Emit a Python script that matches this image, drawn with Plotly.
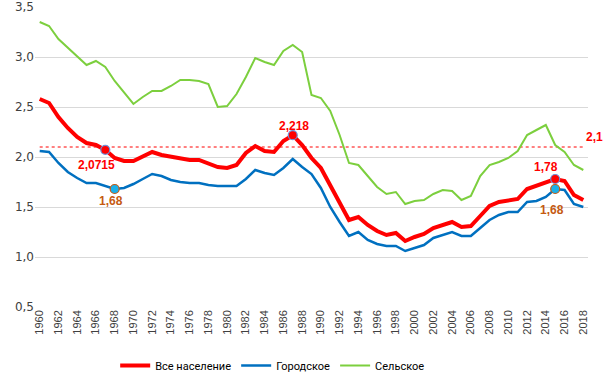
import plotly.graph_objects as go

years = list(range(1960, 2019))
tick_years = list(range(1960, 2019, 2))
tick_labels = [str(y) for y in tick_years]

total = [2.58, 2.54, 2.40, 2.29, 2.20, 2.14, 2.12, 2.0715, 1.99, 1.96,
         1.96, 2.00, 2.05, 2.02, 2.00, 1.99, 1.97, 1.97, 1.93, 1.90,
         1.89, 1.92, 2.04, 2.11, 2.06, 2.05, 2.16, 2.218, 2.12, 1.99,
         1.89, 1.72, 1.53, 1.37, 1.40, 1.32, 1.26, 1.22, 1.24, 1.16,
         1.20, 1.23, 1.29, 1.32, 1.35, 1.30, 1.31, 1.41, 1.51, 1.55,
         1.57, 1.58, 1.68, 1.71, 1.75, 1.78, 1.76, 1.62, 1.57]
urban = [2.06, 2.05, 1.94, 1.85, 1.79, 1.74, 1.74, 1.71, 1.68, 1.69,
         1.73, 1.78, 1.83, 1.81, 1.77, 1.75, 1.74, 1.74, 1.72, 1.71,
         1.71, 1.71, 1.78, 1.87, 1.84, 1.82, 1.89, 1.98, 1.90, 1.83,
         1.69, 1.50, 1.35, 1.21, 1.25, 1.17, 1.13, 1.11, 1.11, 1.06,
         1.09, 1.12, 1.19, 1.22, 1.25, 1.21, 1.21, 1.29, 1.37, 1.42,
         1.45, 1.45, 1.55, 1.56, 1.60, 1.68, 1.67, 1.53, 1.50]
rural = [3.35, 3.31, 3.18, 3.09, 3.01, 2.92, 2.96, 2.90, 2.76, 2.65,
         2.53, 2.60, 2.66, 2.66, 2.71, 2.77, 2.77, 2.76, 2.73, 2.50,
         2.51, 2.63, 2.80, 2.99, 2.95, 2.92, 3.06, 3.12, 3.05, 2.62,
         2.59, 2.46, 2.22, 1.94, 1.92, 1.81, 1.70, 1.63, 1.65, 1.53,
         1.56, 1.57, 1.63, 1.67, 1.66, 1.57, 1.61, 1.81, 1.92, 1.95,
         1.99, 2.06, 2.22, 2.27, 2.32, 2.12, 2.05, 1.92, 1.87]

replacement_level = 2.1
ref_years = [1960, 2018]

red_pts_years = [1967, 1987, 2015]
blue_pts_years = [1968, 2015]

RED = "#FF0000"
BLUE = "#0070C0"
GREEN = "#7CCF3E"
BROWN = "#C55A11"

fig = go.Figure()

fig.add_trace(go.Scatter(x=ref_years, y=[replacement_level, replacement_level], mode="lines",
                         line=dict(color=RED, width=1, dash="dot"), showlegend=False, hoverinfo="skip"))
fig.add_trace(go.Scatter(x=years, y=rural, mode="lines", name="Сельское",
                         line=dict(color=GREEN, width=2), legendrank=3))
fig.add_trace(go.Scatter(x=years, y=urban, mode="lines", name="Городское",
                         line=dict(color=BLUE, width=2.5), legendrank=2))
fig.add_trace(go.Scatter(x=years, y=total, mode="lines", name="Все население",
                         line=dict(color=RED, width=4), legendrank=1))

fig.add_trace(go.Scatter(x=red_pts_years, y=[total[y - 1960] for y in red_pts_years], mode="markers",
                         marker=dict(color=RED, size=9, line=dict(color="#6F8FD8", width=1.2)),
                         showlegend=False))
fig.add_trace(go.Scatter(x=blue_pts_years, y=[urban[y - 1960] for y in blue_pts_years], mode="markers",
                         marker=dict(color="#1AAFE8", size=9, line=dict(color=BROWN, width=1.2)),
                         showlegend=False))

anns = [
    dict(x=1967, y=total[7], text="2,0715", color=RED, xshift=-9, yshift=-15),
    dict(x=1987, y=total[27], text="2,218", color=RED, xshift=1, yshift=9),
    dict(x=2015, y=total[55], text="1,78", color=RED, xshift=-9, yshift=12),
    dict(x=1968, y=urban[8], text="1,68", color=BROWN, xshift=-4, yshift=-12),
    dict(x=2015, y=urban[55], text="1,68", color=BROWN, xshift=-3, yshift=-21),
    dict(x=2018, y=replacement_level, text="2,1", color=RED, xshift=11, yshift=10),
]
for a in anns:
    fig.add_annotation(x=a["x"], y=a["y"], text="<b>%s</b>" % a["text"], showarrow=False,
                       xshift=a["xshift"], yshift=a["yshift"],
                       font=dict(family="Liberation Sans", size=12, color=a["color"]))

fig.update_layout(
    width=612, height=387,
    margin=dict(l=35, r=24, t=7, b=80, autoexpand=False),
    paper_bgcolor="white", plot_bgcolor="white",
    separators=", ",
    showlegend=True,
    legend=dict(orientation="h", x=0.145, xanchor="left", y=-0.195, yanchor="middle",
                font=dict(family="Roboto", size=11, color="#000000"),
                itemwidth=30, tracegroupgap=0, traceorder="normal"),
    xaxis=dict(range=[1959.5, 2018.5], tickmode="array", tickvals=tick_years, ticktext=tick_labels,
               tickangle=-90, showgrid=False, zeroline=False, showline=False, automargin=False,
               tickfont=dict(family="Liberation Sans", size=11, color="#404040"), ticks=""),
    yaxis=dict(range=[0.5, 3.5], dtick=0.5, tickformat=".1f", showgrid=True, gridcolor="#D9D9D9",
               gridwidth=1, zeroline=False, showline=False, ticks="", automargin=False,
               tickfont=dict(family="DejaVu Sans", size=12, color="#404040")),
)

fig.write_html("out.html", config={"displayModeBar": False},
               post_script="document.body.style.margin='0';document.body.style.padding='0';")
